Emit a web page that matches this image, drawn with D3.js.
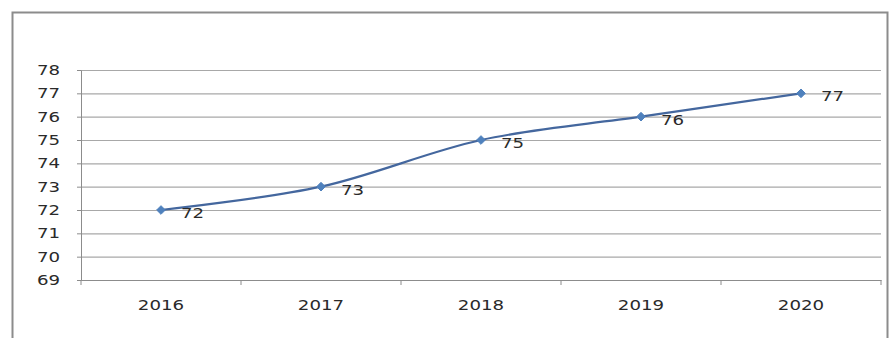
<!DOCTYPE html>
<html>
<head>
<meta charset="utf-8">
<script src="https://cdn.jsdelivr.net/npm/d3@7"></script>
<style>
  html, body { margin: 0; padding: 0; background: #fff; }
  svg { display: block; }
  text { font-family: "DejaVu Sans", sans-serif; fill: #2a2a2a; }
</style>
</head>
<body>
<svg id="chart" width="891" height="338"></svg>
<script>
// Yearly values plotted as a smoothed line with diamond markers
const years = ["2016", "2017", "2018", "2019", "2020"];
const values = [72, 73, 75, 76, 77];
const yTicks = [69, 70, 71, 72, 73, 74, 75, 76, 77, 78];

const W = 891, H = 338;
const plot = { left: 81, right: 881, top: 70, bottom: 280 };
const stretch = 1.3;            // horizontal widening of the lettering
const lineColor = "#44679e";
const markerColor = "#4f81bd";

const svg = d3.select("#chart");

// chart frame
svg.append("path")
  .attr("d", `M12.5,${H} V12.5 H887.5 V${H}`)
  .attr("fill", "none")
  .attr("stroke", "#8c8c8c")
  .attr("stroke-width", 2);

const x = d3.scaleBand().domain(years).range([plot.left, plot.right]).padding(0);
const y = d3.scaleLinear().domain([69, 78]).range([plot.bottom, plot.top]);

// horizontal gridlines
svg.append("g")
  .attr("transform", `translate(${plot.left},0)`)
  .call(d3.axisLeft(y).tickValues(yTicks).tickSize(-(plot.right - plot.left)).tickFormat(""))
  .call(g => g.select(".domain").remove())
  .call(g => g.selectAll("line").attr("stroke", "#a8a8a8").attr("stroke-width", 1.1));

// value axis with small outside ticks
const yAxis = svg.append("g")
  .attr("transform", `translate(${plot.left},0)`)
  .call(d3.axisLeft(y).tickValues(yTicks).tickSize(4).tickPadding(17).tickSizeOuter(0));
yAxis.select(".domain").attr("stroke", "#8c8c8c");
yAxis.selectAll(".tick line").attr("stroke", "#8c8c8c");
yAxis.selectAll("text")
  .style("font-size", "14px")
  .attr("x", function () { return +this.getAttribute("x") / stretch; })
  .attr("transform", `scale(${stretch},1)`);

// category axis: labels centred in each band, ticks on band boundaries
const xAxis = svg.append("g")
  .attr("transform", `translate(0,${plot.bottom})`)
  .call(d3.axisBottom(x).tickSize(0).tickPadding(20).tickSizeOuter(0));
xAxis.select(".domain").attr("stroke", "#8c8c8c").attr("stroke-width", 1.2);
xAxis.selectAll("text")
  .style("font-size", "14px")
  .attr("transform", `scale(${stretch},1)`);

const bounds = years.map(d => x(d)).concat([x(years[years.length - 1]) + x.bandwidth()]);
xAxis.selectAll(".bound")
  .data(bounds)
  .join("line")
  .attr("class", "bound")
  .attr("x1", d => d).attr("x2", d => d)
  .attr("y1", 0).attr("y2", 5)
  .attr("stroke", "#8c8c8c");

const pts = years.map((d, i) => ({ year: d, value: values[i] }));
const cx = d => x(d.year) + x.bandwidth() / 2;
const cy = d => y(d.value);

// smoothed series line
svg.append("path")
  .datum(pts)
  .attr("fill", "none")
  .attr("stroke", lineColor)
  .attr("stroke-width", 2.2)
  .attr("d", d3.line().x(cx).y(cy).curve(d3.curveCatmullRom.alpha(0)));

// diamond markers
svg.append("g").selectAll("path")
  .data(pts)
  .join("path")
  .attr("transform", d => `translate(${cx(d)},${cy(d)})`)
  .attr("d", d3.symbol().type(d3.symbolDiamond2).size(48))
  .attr("fill", markerColor)
  .attr("stroke", markerColor);

// value labels to the right of each point
svg.append("g").selectAll("text")
  .data(pts)
  .join("text")
  .attr("x", d => (cx(d) + 20) / stretch)
  .attr("y", d => cy(d) + 3)
  .attr("dy", "0.35em")
  .attr("transform", `scale(${stretch},1)`)
  .style("font-size", "14px")
  .text(d => d.value);
</script>
</body>
</html>
